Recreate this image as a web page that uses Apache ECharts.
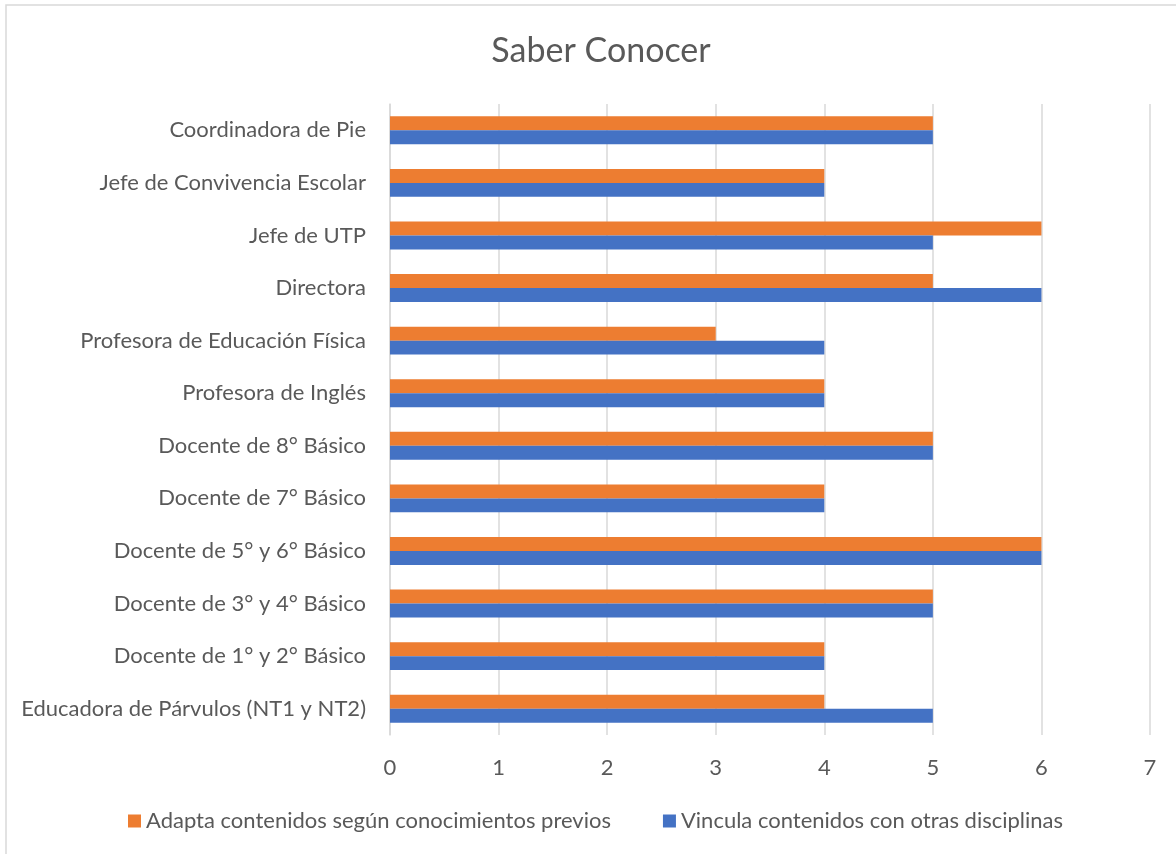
<!DOCTYPE html>
<html>
<head>
<meta charset="utf-8">
<script src="https://cdn.jsdelivr.net/npm/echarts@6/dist/echarts.min.js"></script>
<style>
  html, body { margin: 0; padding: 0; background: #fff; }
  #chartDiv { width: 1176px; height: 854px; }
</style>
</head>
<body>
<div id="chartDiv"></div>
<script>
// categories listed bottom to top
var categories = [
  "Educadora de Párvulos (NT1 y NT2)",
  "Docente de 1° y 2° Básico",
  "Docente de 3° y 4° Básico",
  "Docente de 5° y 6° Básico",
  "Docente de 7° Básico",
  "Docente de 8° Básico",
  "Profesora de Inglés",
  "Profesora de Educación Física",
  "Directora",
  "Jefe de UTP",
  "Jefe de Convivencia Escolar",
  "Coordinadora de Pie"
];
var adaptaName = "Adapta contenidos según conocimientos previos";
var vinculaName = "Vincula contenidos con otras disciplinas";
var adapta = [4, 4, 5, 6, 4, 5, 4, 3, 5, 6, 4, 5];
var vincula = [5, 4, 5, 6, 4, 5, 4, 4, 6, 5, 4, 5];
var xTicks = [0, 1, 2, 3, 4, 5, 6, 7];

var myChart = echarts.init(document.getElementById("chartDiv"));
var font = "Lato, 'Open Sans', sans-serif";

var option = {
  backgroundColor: "#fff",
  animation: false,
  textStyle: { fontFamily: font, color: "#595959" },
  title: {
    text: "Saber Conocer",
    left: 596,
    textAlign: "center",
    top: 29,
    textStyle: { fontFamily: font, fontSize: 34, fontWeight: "normal", color: "#595959" }
  },
  graphic: [{
    type: "rect",
    shape: { x: 6, y: 5, width: 1200, height: 900 },
    style: { fill: "none", stroke: "#d9d9d9", lineWidth: 1.5 },
    silent: true
  }],
  legend: {
    data: [adaptaName, vinculaName],
    bottom: 17,
    left: 123,
    itemWidth: 13,
    itemHeight: 13,
    itemGap: 52,
    icon: "rect",
    textStyle: { fontFamily: font, fontSize: 22, color: "#595959" }
  },
  grid: { left: 390, right: 26, top: 104, bottom: 119, containLabel: false },
  xAxis: {
    type: "value",
    min: xTicks[0],
    max: xTicks[xTicks.length - 1],
    interval: 1,
    axisLine: { show: false },
    axisTick: { show: false },
    axisLabel: { fontFamily: font, fontSize: 22, color: "#595959", margin: 22 },
    splitLine: { lineStyle: { color: "#d9d9d9", width: 1.5 } }
  },
  yAxis: {
    type: "category",
    data: categories,
    axisLine: { show: true, lineStyle: { color: "#d9d9d9", width: 1.5 } },
    axisTick: { show: false },
    axisLabel: { fontFamily: font, fontSize: 22, color: "#595959", margin: 24 }
  },
  series: [
    {
      name: adaptaName,
      type: "bar",
      data: adapta,
      itemStyle: { color: "#ED7D31" },
      barGap: "0%",
      barCategoryGap: "47%"
    },
    {
      name: vinculaName,
      type: "bar",
      data: vincula,
      itemStyle: { color: "#4472C4" },
      barGap: "0%",
      barCategoryGap: "47%"
    }
  ]
};

myChart.setOption(option);

window.addEventListener("resize", function () {
  myChart.resize();
});
</script>
</body>
</html>
